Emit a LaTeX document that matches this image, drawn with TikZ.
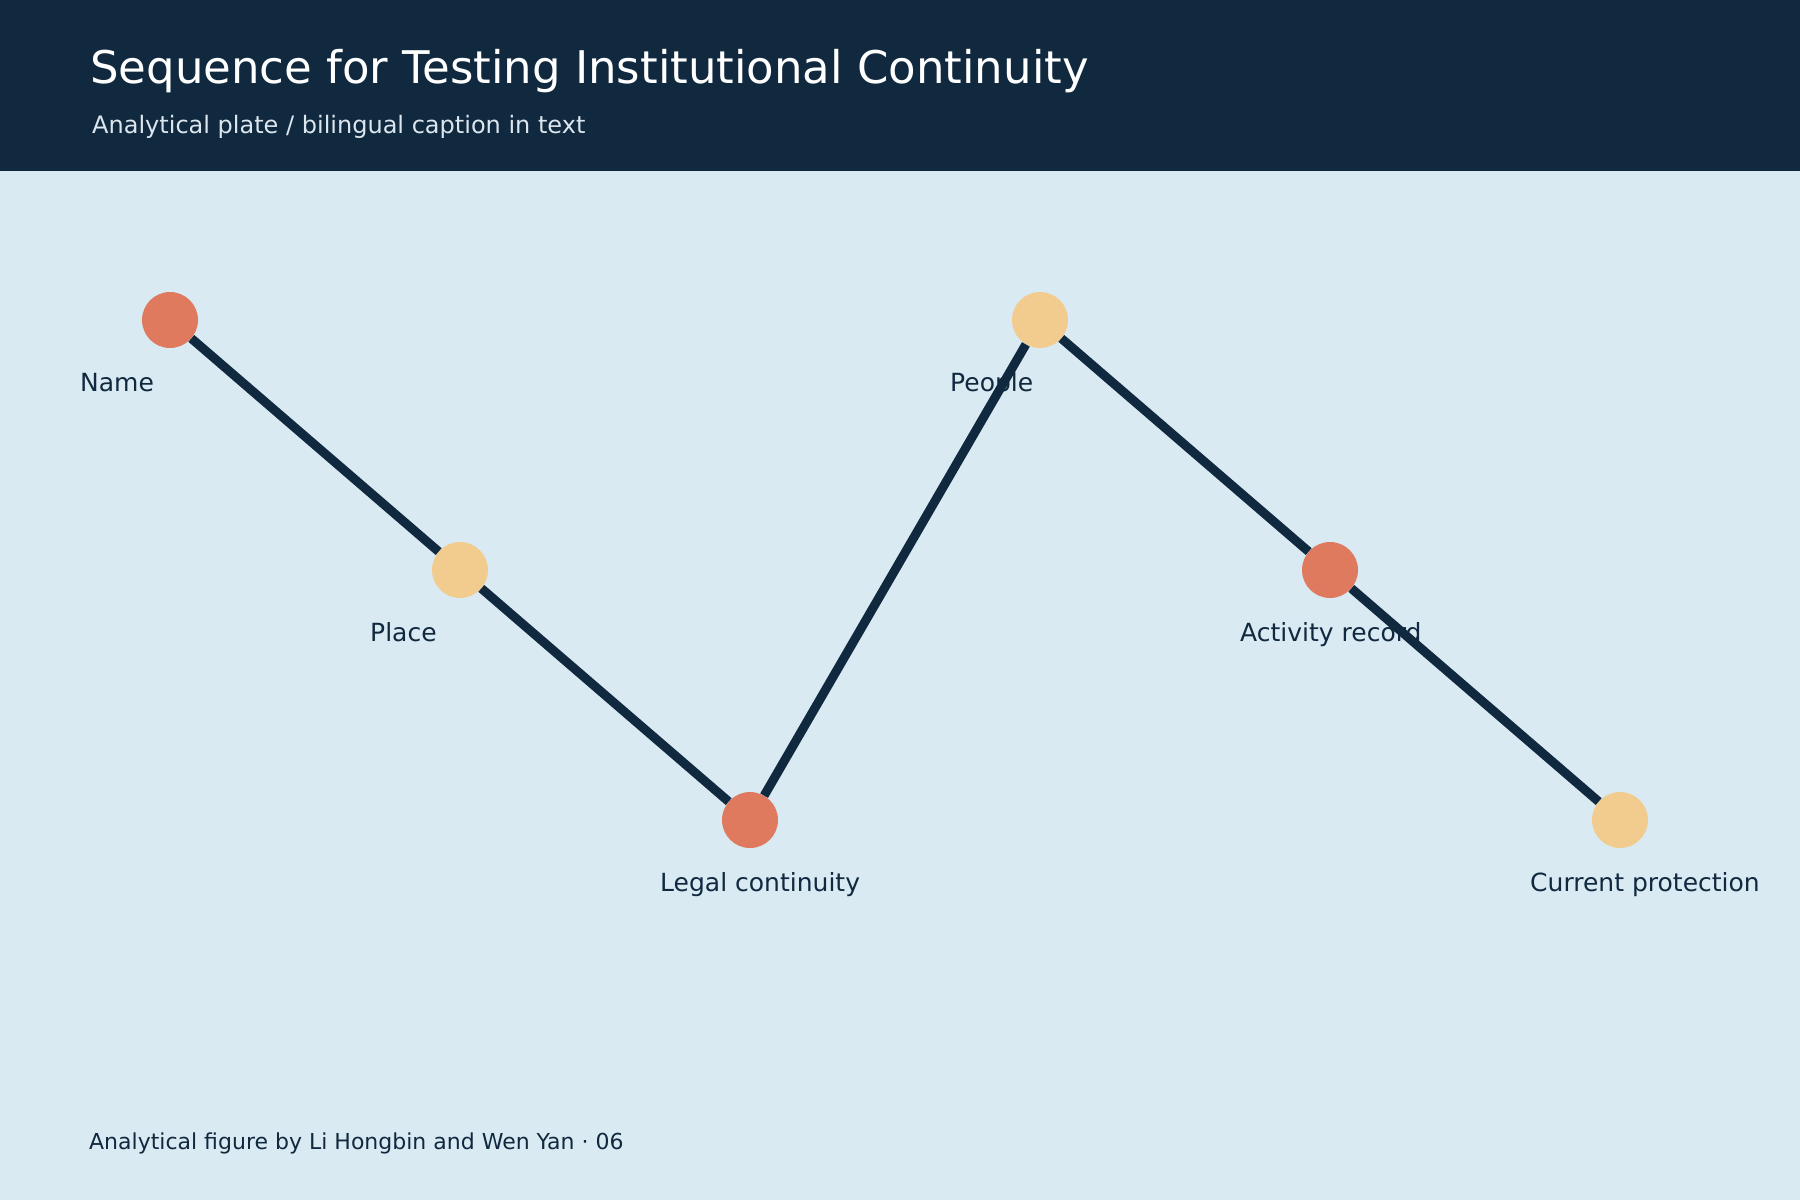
\documentclass[tikz,border=0pt]{standalone}
\usepackage{fontspec}
\setmainfont{DejaVu Sans}
\definecolor{navy}{HTML}{10293F}
\definecolor{paper}{HTML}{D9EAF3}
\definecolor{coral}{HTML}{E07A5F}
\definecolor{sand}{HTML}{F2CC8F}
\definecolor{mist}{HTML}{DCE6EE}
\tikzset{
    stop/.style={circle, inner sep=0pt, minimum size=56pt},
    stoplabel/.style={anchor=base west, inner sep=0pt, text=navy, font=\fontsize{25}{25}\selectfont},
    link/.style={draw=navy, line width=9pt}
}
\begin{document}
\begin{tikzpicture}[x=1pt, y=-1pt]
            \useasboundingbox (0, 0) rectangle (1800, 1200);
            \fill[paper] (0, 0) rectangle (1800, 1200);
            \fill[navy] (0, 0) rectangle (1800, 171);

            \node[anchor=base west, inner sep=0pt, text=white, font=\fontsize{45}{45}\selectfont] (title) at (90, 83) {Sequence for Testing Institutional Continuity};
            \node[anchor=base west, inner sep=0pt, text=mist, font=\fontsize{24}{24}\selectfont] (subtitle) at (92, 133) {Analytical plate / bilingual caption in text};

            \node[stop, fill=coral] (name) at (170, 320) {};
            \node[stop, fill=sand] (place) at (460, 570) {};
            \node[stop, fill=coral] (legal) at (750, 820) {};
            \node[stop, fill=sand] (people) at (1040, 320) {};
            \node[stop, fill=coral] (activity) at (1330, 570) {};
            \node[stop, fill=sand] (current) at (1620, 820) {};

            \draw[link] (name) -- (place) -- (legal) -- (people) -- (activity) -- (current);

            \node[stoplabel] (namelabel) at (80, 391) {Name};
            \node[stoplabel] (placelabel) at (370, 641) {Place};
            \node[stoplabel] (legallabel) at (660, 891) {Legal continuity};
            \node[stoplabel] (peoplelabel) at (950, 391) {People};
            \node[stoplabel] (activitylabel) at (1240, 641) {Activity record};
            \node[stoplabel] (currentlabel) at (1530, 891) {Current protection};

            \node[anchor=base west, inner sep=0pt, text=navy, font=\fontsize{22}{22}\selectfont] (footer) at (89, 1149) {Analytical figure by Li Hongbin and Wen Yan · 06};
\end{tikzpicture}
\end{document}
